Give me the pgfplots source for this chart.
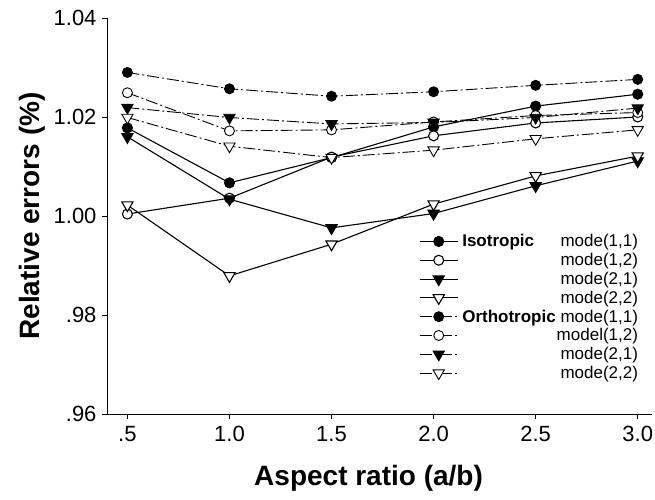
\documentclass[border=0pt]{standalone}
\usepackage{fontspec}
\setmainfont{Liberation Sans}
\usepackage{pgfplots}
\pgfplotsset{compat=1.18}

\begin{document}
\begin{tikzpicture}
\begin{axis}[
  at={(107bp,86bp)}, anchor=south west,
  scale only axis,
  width=545bp, height=396bp,
  xmin=0.4, xmax=3.07,
  ymin=0.96, ymax=1.04,
  axis x line=bottom, axis y line=left,
  axis line style={-, line width=0.8bp},
  tick align=outside,
  major tick length=5bp,
  tick style={black, line width=0.6bp},
  xtick={0.5,1,1.5,2,2.5,3},
  xticklabels={.5,1.0,1.5,2.0,2.5,3.0},
  ytick={0.96,0.98,1.00,1.02,1.04},
  yticklabels={.96,.98,1.00,1.02,1.04},
  tick label style={font=\fontsize{22bp}{25bp}\selectfont},
  xticklabel style={yshift=-4bp},
  yticklabel style={xshift=-2bp},
  xlabel={\textbf{Aspect ratio (a/b)}},
  ylabel={\textbf{Relative errors (\%)}},
  label style={font=\fontsize{28bp}{32bp}\selectfont},
  xlabel style={at={(axis description cs:0.48,-0.162)}, anchor=center},
  ylabel style={at={(axis description cs:-0.138,0.5)}, anchor=center},
  legend style={draw=none, fill=none, inner sep=0pt,
    at={(axis description cs:0.982,0.455)}, anchor=north east,
    font=\fontsize{17bp}{18bp}\selectfont, row sep=4bp,
    nodes={inner xsep=4bp, inner ysep=0.5bp}},
  legend cell align=right,
  legend image code/.code={
    \draw[mark repeat=2, mark phase=2] plot coordinates {(0bp,0bp)(19bp,0bp)(38bp,0bp)};},
  every axis plot/.append style={black, line width=1.1bp},
]
% Isotropic (solid)
\addplot[solid, mark=*, mark size=5bp, mark options={solid, fill=black}]
  coordinates {(0.5,1.0178)(1,1.0067)(1.5,1.0118)(2,1.0180)(2.5,1.0222)(3,1.0246)};
\addlegendentry{\rlap{\textbf{Isotropic}}\hphantom{\textbf{Orthotropic}} mode(1,1)}
\addplot[solid, mark=*, mark size=5bp, mark options={solid, fill=white}]
  coordinates {(0.5,1.0004)(1,1.0036)(1.5,1.0119)(2,1.0162)(2.5,1.0188)(3,1.0200)};
\addlegendentry{mode(1,2)}
\addplot[solid, mark=triangle*, mark size=6.5bp, mark options={solid, fill=black, rotate=180}]
  coordinates {(0.5,1.0160)(1,1.0034)(1.5,0.9976)(2,1.0005)(2.5,1.0061)(3,1.0111)};
\addlegendentry{mode(2,1)}
\addplot[solid, mark=triangle*, mark size=6.5bp, mark options={solid, fill=white, rotate=180}]
  coordinates {(0.5,1.0022)(1,0.9879)(1.5,0.9943)(2,1.0024)(2.5,1.0081)(3,1.0121)};
\addlegendentry{mode(2,2)}
% Orthotropic (dash-dot)
\addplot[dash pattern=on 12bp off 3bp on 2bp off 3bp, line width=0.9bp, mark=*, mark size=5bp, mark options={solid, fill=black}]
  coordinates {(0.5,1.0290)(1,1.0257)(1.5,1.0242)(2,1.0251)(2.5,1.0264)(3,1.0276)};
\addlegendentry{\textbf{Orthotropic} mode(1,1)}
\addplot[dash pattern=on 12bp off 3bp on 2bp off 3bp, line width=0.9bp, mark=*, mark size=5bp, mark options={solid, fill=white}]
  coordinates {(0.5,1.0249)(1,1.0172)(1.5,1.0174)(2,1.0190)(2.5,1.0203)(3,1.0209)};
\addlegendentry{model(1,2)}
\addplot[dash pattern=on 12bp off 3bp on 2bp off 3bp, line width=0.9bp, mark=triangle*, mark size=6.5bp, mark options={solid, fill=black, rotate=180}]
  coordinates {(0.5,1.0219)(1,1.0199)(1.5,1.0186)(2,1.0189)(2.5,1.0199)(3,1.0218)};
\addlegendentry{mode(2,1)}
\addplot[dash pattern=on 12bp off 3bp on 2bp off 3bp, line width=0.9bp, mark=triangle*, mark size=6.5bp, mark options={solid, fill=white, rotate=180}]
  coordinates {(0.5,1.0199)(1,1.0141)(1.5,1.0118)(2,1.0133)(2.5,1.0156)(3,1.0174)};
\addlegendentry{mode(2,2)}
\end{axis}
\pgfresetboundingbox
\path[use as bounding box] (0,0) rectangle (655bp,500bp);
\end{tikzpicture}
\end{document}
